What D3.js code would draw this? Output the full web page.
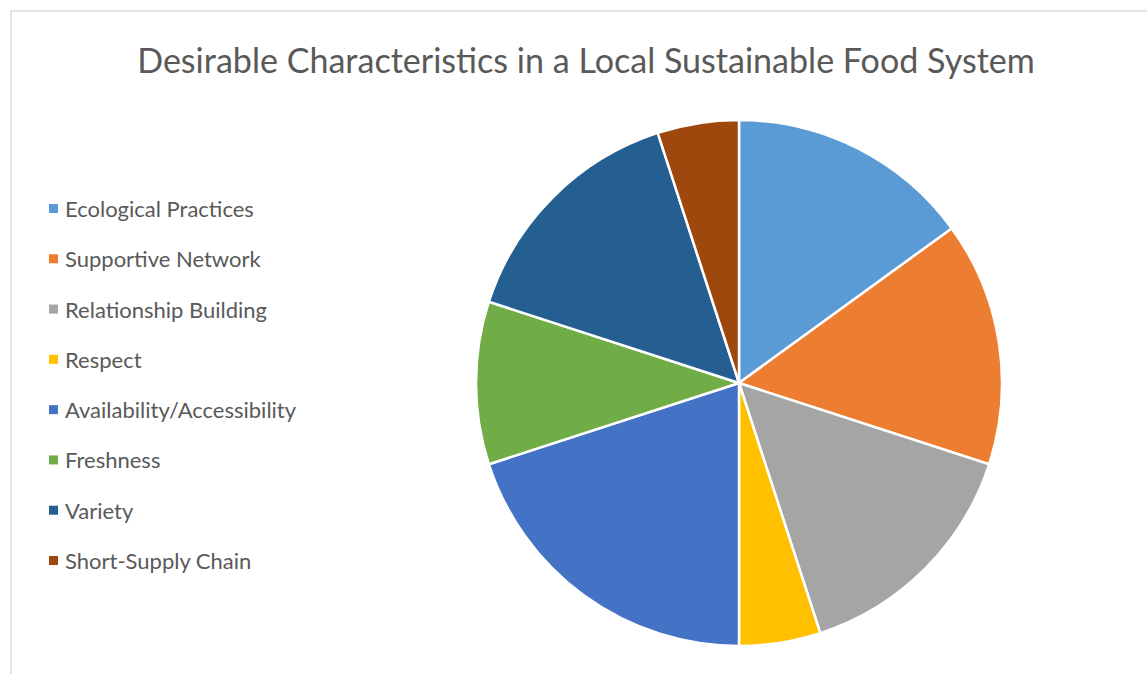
<!DOCTYPE html>
<html>
<head>
<meta charset="utf-8">
<script src="https://cdn.jsdelivr.net/npm/d3@7"></script>
<style>
  body { margin: 0; background: #fff; }
  svg { display: block; }
</style>
</head>
<body>
<script>
var categories = ["Ecological Practices", "Supportive Network", "Relationship Building", "Respect",
    "Availability/Accessibility", "Freshness", "Variety", "Short-Supply Chain"];
var values = [15, 15, 15, 5, 20, 10, 15, 5];
var colors = ["#5B9BD5", "#ED7D31", "#A5A5A5", "#FFC000", "#4472C4", "#70AD47", "#255E91", "#9E480E"];
var title = "Desirable Characteristics in a Local Sustainable Food System";

var width = 1147, height = 674;
var svg = d3.select("body").append("svg")
    .attr("width", width)
    .attr("height", height);

// cadre du graphique
svg.append("rect")
    .attr("x", 11).attr("y", 11)
    .attr("width", 1200).attr("height", 800)
    .attr("fill", "#fff")
    .attr("stroke", "#d9d9d9")
    .attr("stroke-width", 1.5);

// titre
var t = svg.append("text")
    .attr("x", 586).attr("y", 73)
    .attr("text-anchor", "middle")
    .attr("font-family", "Lato, 'Open Sans', sans-serif")
    .attr("font-size", 32)
    .attr("fill", "#595959")
    .text(title);
var tw = t.node().getComputedTextLength();
t.attr("font-size", 32 * 898 / tw);

// camembert
var cx = 739, cy = 383, r = 263;
var pie = d3.pie().sort(null).value(function(d) { return d; });
var arc = d3.arc().innerRadius(0).outerRadius(r);
var color = d3.scaleOrdinal().domain(categories).range(colors);

var g = svg.append("g").attr("transform", "translate(" + cx + "," + cy + ")");
g.selectAll("path")
    .data(pie(values))
    .enter()
    .append("path")
    .attr("d", arc)
    .attr("fill", function(d, i) { return color(categories[i]); })
    .attr("stroke", "#fff")
    .attr("stroke-width", 2.5)
    .attr("stroke-linejoin", "round");

// légende
var y = d3.scalePoint().domain(categories).range([209, 561]);
var leg = svg.append("g");
var items = leg.selectAll("g")
    .data(categories)
    .enter()
    .append("g")
    .attr("transform", function(d) { return "translate(0," + y(d) + ")"; });
items.append("rect")
    .attr("x", 49).attr("y", -5)
    .attr("width", 9).attr("height", 9)
    .attr("fill", function(d) { return color(d); });
items.append("text")
    .attr("x", 65).attr("y", 8)
    .attr("font-family", "Lato, 'Open Sans', sans-serif")
    .attr("font-size", 22)
    .attr("fill", "#595959")
    .text(function(d) { return d; });
</script>
</body>
</html>
